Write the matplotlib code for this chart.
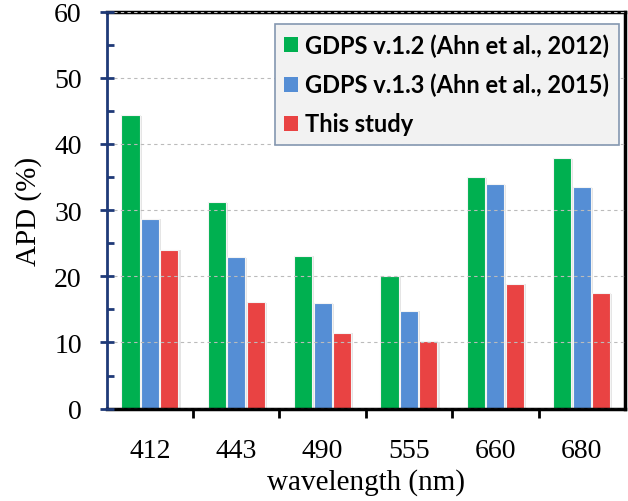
"""
APD by wavelength: GDPS versions vs. this study.
"""

import matplotlib
matplotlib.use("Agg")
import matplotlib.pyplot as plt
import matplotlib.patheffects as pe
import numpy as np

wavelengths = ["412", "443", "490", "555", "660", "680"]
gdps_v12 = [44.3, 31.2, 23.1, 20.1, 35.0, 37.9]
gdps_v13 = [28.7, 22.9, 15.9, 14.8, 33.9, 33.5]
this_study = [24.0, 16.1, 11.5, 10.2, 18.9, 17.5]

series_labels = [
    "GDPS v.1.2 (Ahn et al., 2012)",
    "GDPS v.1.3 (Ahn et al., 2015)",
    "This study",
]
colors = ["#00B050", "#558ED5", "#E94343"]
navy = "#1F3A78"

fig = plt.figure(figsize=(6.28, 5.02), dpi=100)
ax = fig.add_axes([0.170, 0.184, 0.825, 0.791])

x = np.arange(len(wavelengths))
width = 0.21
step = 0.225
shadow = [pe.SimplePatchShadow(offset=(1.5, -0.5), shadow_rgbFace="0.6", alpha=0.25), pe.Normal()]

for i, (vals, lab, col) in enumerate(zip([gdps_v12, gdps_v13, this_study], series_labels, colors)):
    bars = ax.bar(x + (i - 1) * step, vals, width, color=col, label=lab,
                  edgecolor="#F4F4F4", linewidth=0.8, zorder=3)
    for b in bars:
        b.set_path_effects(shadow)

ax.set_xlim(-0.5, len(wavelengths) - 0.5)
ax.set_ylim(0, 60)

# category labels in the middle, tick marks on the boundaries
ax.set_xticks(x)
ax.set_xticklabels(wavelengths)
ax.set_xticks(np.arange(0.5, len(wavelengths) - 0.5, 1), minor=True)
ax.tick_params(axis="x", which="major", length=0, pad=21)
ax.tick_params(axis="x", which="minor", direction="out", length=6.5, width=2, color="black")

ax.set_yticks(np.arange(0, 61, 10))
ax.set_yticks(np.arange(5, 60, 10), minor=True)
ax.tick_params(axis="y", which="major", direction="inout", length=10, width=2, color=navy, pad=13)
ax.tick_params(axis="y", which="minor", direction="in", length=5, width=2, color=navy)

for lbl in ax.get_xticklabels() + ax.get_yticklabels():
    lbl.set_fontfamily("Liberation Serif")
    lbl.set_fontsize(20)

ax.yaxis.grid(True, which="major", linestyle=(0, (3, 3)), color="#BBBBBB", linewidth=0.8, zorder=0)
ax.set_axisbelow(True)

for side in ["top", "right", "bottom"]:
    ax.spines[side].set_color("black")
    ax.spines[side].set_linewidth(2.5)
ax.spines["left"].set_color(navy)
ax.spines["left"].set_linewidth(2)
for sp in ax.spines.values():
    sp.set_zorder(5)
ax.xaxis.set_zorder(5)
ax.yaxis.set_zorder(5)

ax.set_xlabel("wavelength (nm)", fontfamily="Liberation Serif", fontsize=21, labelpad=4)
ax.set_ylabel("APD (%)", fontfamily="Liberation Serif", fontsize=21, labelpad=9)

leg = ax.legend(loc="upper right", bbox_to_anchor=(0.988, 0.969), borderaxespad=0,
                prop={"family": "Lato", "weight": "bold", "size": 17},
                fancybox=False, framealpha=1, labelspacing=0.68,
                handlelength=0.6, handleheight=0.6, handletextpad=0.3,
                borderpad=0.4)
leg.set_zorder(6)
leg.get_frame().set_facecolor("#F2F2F2")
leg.get_frame().set_edgecolor("#8497B0")
leg.get_frame().set_linewidth(1.2)
for h in leg.legend_handles:
    h.set_path_effects([])
    h.set_edgecolor("none")

fig.savefig("out.png", dpi=100)
